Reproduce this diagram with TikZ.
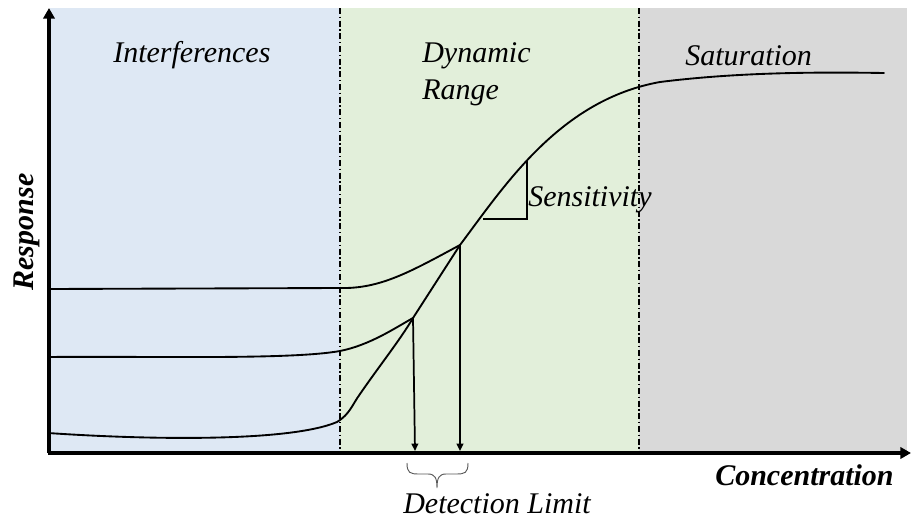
\documentclass[tikz,border=0pt]{standalone}
\usepackage{fontspec}
\setmainfont{Liberation Serif}
\usetikzlibrary{arrows.meta}
\definecolor{zoneblue}{HTML}{DEE8F4}
\definecolor{zonegreen}{HTML}{E2EFDA}
\definecolor{zonegray}{HTML}{D9D9D9}
\tikzset{
  zonesep/.style={line width=1.4pt, dash pattern=on 4.5pt off 2pt on 1pt off 2pt},
  curve/.style={line width=1.4pt, line cap=round, line join=round},
  axisline/.style={line width=2.3pt, -{Triangle[length=8pt,width=8.5pt]}},
  droparrow/.style={line width=1.3pt, -{Triangle[length=5.5pt,width=5pt]}},
  lbl/.style={inner sep=0pt, anchor=base west, font=\fontsize{22.5}{27}\selectfont\itshape},
  axislbl/.style={inner sep=0pt, font=\fontsize{22.5}{27}\selectfont\bfseries\itshape},
}
\begin{document}
\begin{tikzpicture}[x=0.75pt,y=-0.75pt]
\useasboundingbox (0,0) rectangle (911,518);

% zones
\fill[zoneblue]  (50,8)  rectangle (340,453);
\fill[zonegreen] (340,8) rectangle (639,453);
\fill[zonegray]  (639,8) rectangle (907,453);

% zone separators
\coordinate (s1t) at (340,8);  \coordinate (s1b) at (340,453);
\coordinate (s2t) at (639,8);  \coordinate (s2b) at (639,453);
\draw[zonesep] (s1t) -- (s1b);
\draw[zonesep] (s2t) -- (s2b);

% junction points of the calibration curves
\coordinate (j1) at (413,318);
\coordinate (j2) at (460,245);

% top curve
\draw[curve] (48,289) -- (340,288) .. controls (380,289) and (410,272) .. (j2);
% middle curve
\draw[curve] (48,357) .. controls (150,356) and (290,360) .. (340,351)
  .. controls (370,345) and (395,328) .. (j1);
% bottom curve and main response curve
\draw[curve] (48,433) .. controls (150,440) and (290,442) .. (337,422)
  .. controls (350,414) and (352,405) .. (360,394)
  .. controls (380,365) and (400,340) .. (j1) -- (j2)
  .. controls (505,185) and (560,100) .. (660,82)
  .. controls (740,72) and (820,72) .. (884,73);

% detection limit drops
\coordinate (f1) at (415,451);
\coordinate (f2) at (460,451);
\draw[droparrow] (j1) -- (f1);
\draw[droparrow] (j2) -- (f2);

% sensitivity triangle
\coordinate (t1) at (483,219);
\coordinate (t2) at (527,219);
\coordinate (t3) at (527,160);
\draw[line width=1.1pt] (t1) -- (t2) -- (t3);

% brace under the detection limits
\draw[gray!70!black, line width=0.7pt]
  (407,463) .. controls (407,473) and (410,474) .. (419,474) -- (428,474)
  .. controls (435,474) and (437,478) .. (437,488)
  .. controls (437,478) and (439,474) .. (446,474) -- (456,474)
  .. controls (465,474) and (468,473) .. (468,463);

% axes
\coordinate (o) at (49,453);
\coordinate (ytop) at (49,8);
\coordinate (xend) at (911,453);
\draw[axisline] (o) -- (ytop);
\draw[axisline] (47.5,453) -- (xend);

% labels
\node[lbl] (interf) at (113,62) {Interferences};
\node[lbl] (dyn) at (422,62) {Dynamic};
\node[lbl] (rng) at (422,99) {Range};
\node[lbl] (sat) at (685,65) {Saturation};
\node[lbl] (sens) at (528,206) {Sensitivity};
\node[lbl] (detl) at (403,513) {Detection Limit};
\node[axislbl, anchor=base west] (conc) at (715,485) {Concentration};
\node[axislbl, anchor=base, rotate=90] (resp) at (33,232) {Response};
\end{tikzpicture}
\end{document}
